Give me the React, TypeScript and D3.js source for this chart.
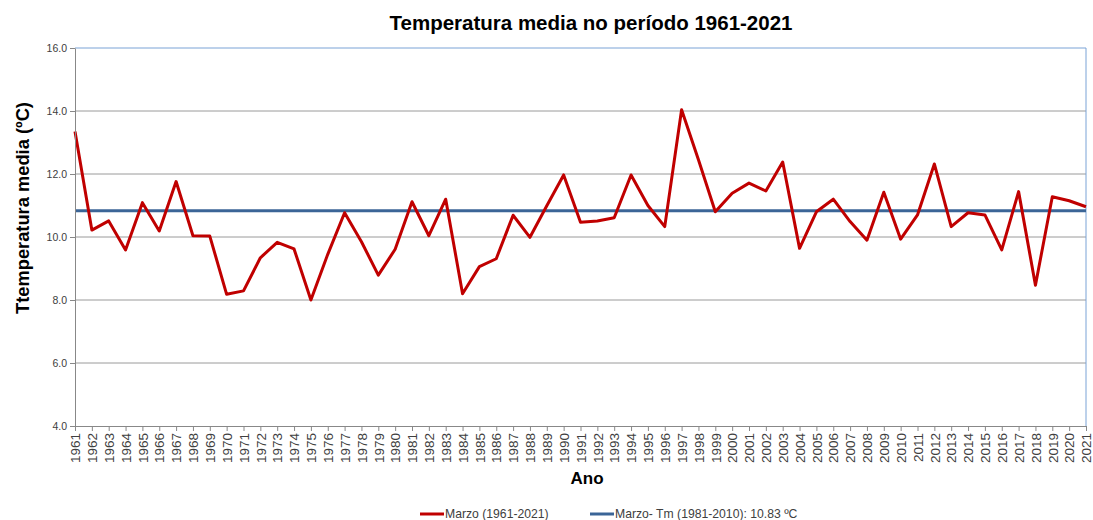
import React, { useEffect, useRef } from "react";
import * as d3 from "d3";

const width = 1093;
const height = 520;
const margin = { top: 48, right: 7, bottom: 94, left: 75 };
const red = "#c00000";
const blue = "#3b6597";
const font = "'Liberation Sans', Arial, sans-serif";

const years = d3.range(1961, 2022);
const marzo = [
  13.35, 10.22, 10.51, 9.59, 11.09, 10.19, 11.76, 10.04, 10.03, 8.18,
  8.29, 9.34, 9.83, 9.62, 8.0, 9.45, 10.77, 9.85, 8.79, 9.61,
  11.12, 10.04, 11.2, 8.2, 9.06, 9.31, 10.69, 9.99, 10.99, 11.97,
  10.47, 10.51, 10.61, 11.97, 11.0, 10.33, 14.04, 12.45, 10.8, 11.39,
  11.71, 11.46, 12.38, 9.64, 10.8, 11.2, 10.49, 9.9, 11.42, 9.93,
  10.7, 12.32, 10.33, 10.77, 10.7, 9.59, 11.44, 8.47, 11.28, 11.15,
  10.96,
];
const meanTm = 10.83;
const yTicks = [4, 6, 8, 10, 12, 14, 16];

export default function App() {
  const xAxisRef = useRef<SVGGElement>(null);
  const yAxisRef = useRef<SVGGElement>(null);

  const x = d3
    .scalePoint<number>()
    .domain(years)
    .range([margin.left, width - margin.right]);
  const y = d3
    .scaleLinear()
    .domain([4, 16])
    .range([height - margin.bottom, margin.top]);

  const line = d3
    .line<number>()
    .x((d, i) => x(years[i]) as number)
    .y((d) => y(d));

  useEffect(() => {
    const xa = d3.select(xAxisRef.current!);
    xa.call(d3.axisBottom(x).tickSizeOuter(0).tickSize(5).tickPadding(4));
    xa.select(".domain").attr("stroke", "#888");
    xa.selectAll(".tick line").attr("stroke", "#888");
    xa.selectAll(".tick text")
      .attr("transform", "rotate(-90)")
      .attr("text-anchor", "end")
      .attr("x", -7)
      .attr("y", 0)
      .attr("dy", "0.35em")
      .attr("fill", "#404040")
      .style("font-family", font)
      .style("font-size", "13.5px");

    const ya = d3.select(yAxisRef.current!);
    ya.call(
      d3
        .axisLeft(y)
        .tickValues(yTicks)
        .tickFormat(d3.format(".1f"))
        .tickSize(5)
        .tickSizeOuter(0)
        .tickPadding(3)
    );
    ya.select(".domain").attr("stroke", "#888");
    ya.selectAll(".tick line").attr("stroke", "#888");
    ya.selectAll(".tick text")
      .attr("fill", "#404040")
      .style("font-family", font)
      .style("font-size", "10.5px");
  }, []);

  const left = margin.left;
  const right = width - margin.right;
  const top = margin.top;
  const bottom = height - margin.bottom;

  return (
    <svg
      width={width}
      height={height}
      style={{ position: "absolute", left: 0, top: 0, background: "#fff" }}
    >
      {/* grid lines */}
      {yTicks
        .filter((t) => t !== 4 && t !== 16)
        .map((t) => (
          <line
            key={t}
            x1={left}
            x2={right}
            y1={y(t)}
            y2={y(t)}
            stroke="#9a9a9a"
            strokeWidth={1}
          />
        ))}
      {/* top and right borders */}
      <line x1={left} x2={right} y1={top} y2={top} stroke="#7aa3d6" strokeWidth={1} />
      <line x1={right} x2={right} y1={top} y2={bottom} stroke="#7aa3d6" strokeWidth={1} />

      <line
        x1={left}
        x2={right}
        y1={y(meanTm)}
        y2={y(meanTm)}
        stroke={blue}
        strokeWidth={3}
      />
      <path
        d={line(marzo) ?? undefined}
        fill="none"
        stroke={red}
        strokeWidth={3}
        strokeLinejoin="round"
      />

      <g ref={xAxisRef} transform={`translate(0, ${bottom})`} />
      <g ref={yAxisRef} transform={`translate(${left}, 0)`} />

      <text
        x={591}
        y={30}
        textAnchor="middle"
        fontFamily={font}
        fontWeight="bold"
        fontSize={20.5}
        fill="#000"
      >
        Temperatura media no período 1961-2021
      </text>
      <text
        transform={`translate(29, 208) rotate(-90)`}
        textAnchor="middle"
        fontFamily={font}
        fontWeight="bold"
        fontSize={18.3}
        fill="#000"
      >
        Ttemperatura media (ºC)
      </text>
      <text
        x={587}
        y={484}
        textAnchor="middle"
        fontFamily={font}
        fontWeight="bold"
        fontSize={17}
        fill="#000"
      >
        Ano
      </text>

      {/* legend */}
      <g fontFamily={font} fontSize={12.2} fill="#404040">
        <line x1={420} x2={444} y1={514} y2={514} stroke={red} strokeWidth={3} />
        <text x={445} y={518}>Marzo (1961-2021)</text>
        <line x1={590} x2={614} y1={514} y2={514} stroke={blue} strokeWidth={3} />
        <text x={615} y={518}>Marzo- Tm (1981-2010): 10.83 ºC</text>
      </g>
    </svg>
  );
}
